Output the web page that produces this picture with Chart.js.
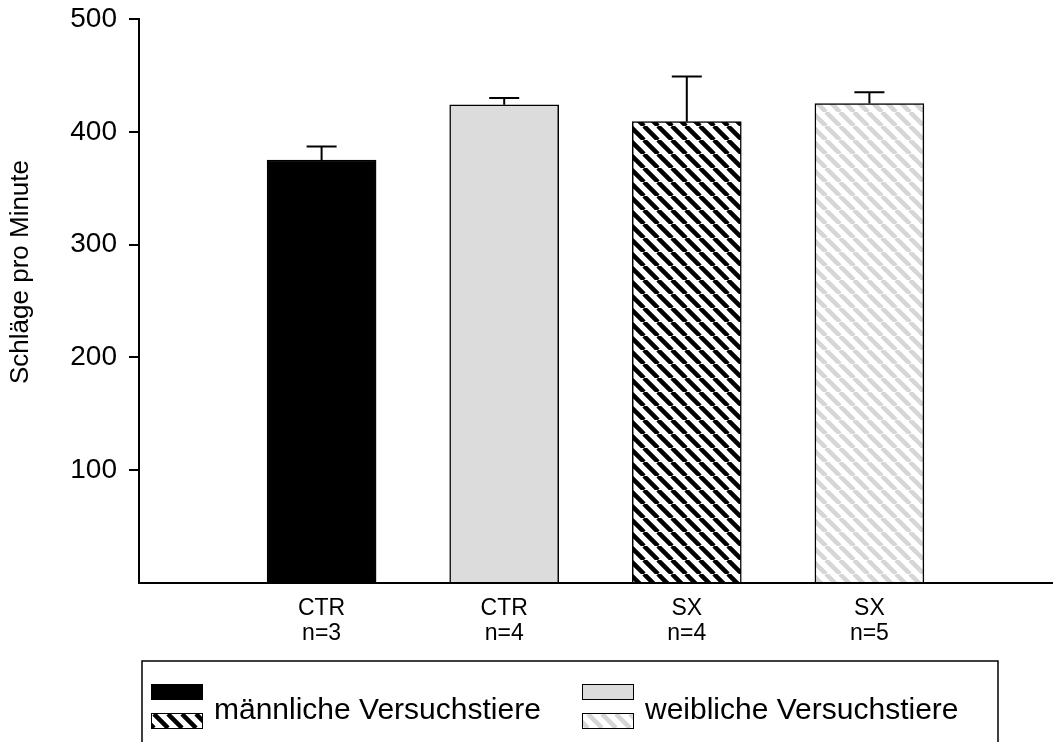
<!DOCTYPE html>
<html>
<head>
<meta charset="utf-8">
<script src="https://cdn.jsdelivr.net/npm/chart.js@4/dist/chart.umd.min.js"></script>
<style>
  body { margin: 0; background: #fff; }
  canvas { display: block; }
</style>
</head>
<body>
<canvas id="heart-chart" width="1053" height="742"></canvas>
<script>
var categories = [['CTR', 'n=3'], ['CTR', 'n=4'], ['SX', 'n=4'], ['SX', 'n=5']];
var positions = [1, 2, 3, 4];
var means = [375, 424, 409, 425];
var errors = [12, 6, 40, 10];
var yTicks = [100, 200, 300, 400, 500];
var legendLabels = ['männliche Versuchstiere', 'weibliche Versuchstiere'];
var yTitle = 'Schläge pro Minute';

var fontFamily = '"Liberation Sans", Arial, sans-serif';
var gray = '#dcdcdc';

function makeHatch(stripe, width) {
  var size = 14;
  var c = document.createElement('canvas');
  c.width = size;
  c.height = size;
  var g = c.getContext('2d');
  g.fillStyle = '#fff';
  g.fillRect(0, 0, size, size);
  g.strokeStyle = stripe;
  g.lineWidth = width;
  g.beginPath();
  for (var k = -1; k <= 1; k++) { // "\" lines, repeated so the tile joins up
    g.moveTo(k * size, 0);
    g.lineTo(k * size + size, size);
  }
  g.stroke();
  return g.createPattern(c, 'repeat');
}

var maleHatch = makeHatch('#000', 4.5);
var femaleHatch = makeHatch('#d6d6d6', 4.5);
var fills = ['#000', gray, maleHatch, femaleHatch];

var barData = [];
for (var i = 0; i < positions.length; i++) {
  barData.push({ x: positions[i], y: means[i] });
}

var errorBars = { //upward error bars with caps
  id: 'errorBars',
  afterDatasetsDraw: function(chart) {
    var ctx = chart.ctx;
    var xs = chart.scales.x;
    var ys = chart.scales.y;
    ctx.save();
    ctx.strokeStyle = '#000';
    ctx.lineWidth = 2;
    for (var i = 0; i < means.length; i++) {
      var x = xs.getPixelForValue(positions[i]);
      var yBase = ys.getPixelForValue(means[i]);
      var yTop = ys.getPixelForValue(means[i] + errors[i]);
      ctx.beginPath();
      ctx.moveTo(x, yBase);
      ctx.lineTo(x, yTop);
      ctx.moveTo(x - 15, yTop);
      ctx.lineTo(x + 15, yTop);
      ctx.stroke();
    }
    ctx.restore();
  }
};

var extras = { //axis title and the boxed legend below the chart
  id: 'extras',
  afterDraw: function(chart) {
    var ctx = chart.ctx;
    ctx.save();
    ctx.fillStyle = '#000';

    ctx.translate(21, 272);
    ctx.rotate(-Math.PI / 2);
    ctx.font = '26px ' + fontFamily;
    ctx.textAlign = 'center';
    ctx.textBaseline = 'middle';
    ctx.fillText(yTitle, 0, 0);
    ctx.setTransform(1, 0, 0, 1, 0, 0);

    ctx.strokeStyle = '#000';
    ctx.lineWidth = 1.5;
    ctx.beginPath();
    ctx.moveTo(142, 742);
    ctx.lineTo(142, 661);
    ctx.lineTo(998, 661);
    ctx.lineTo(998, 742);
    ctx.stroke();

    var itemX = [151, 582];
    var swatches = [[fills[0], fills[2]], [fills[1], fills[3]]];
    ctx.font = '30px ' + fontFamily;
    ctx.textAlign = 'left';
    ctx.textBaseline = 'middle';
    ctx.lineWidth = 1;
    for (var j = 0; j < legendLabels.length; j++) {
      ctx.fillStyle = swatches[j][0];
      ctx.fillRect(itemX[j], 684, 52, 16);
      ctx.strokeRect(itemX[j] + 0.5, 684.5, 51, 15);
      ctx.fillStyle = swatches[j][1];
      ctx.fillRect(itemX[j], 713, 52, 16);
      ctx.strokeRect(itemX[j] + 0.5, 713.5, 51, 15);
      ctx.fillStyle = '#000';
      ctx.fillText(legendLabels[j], itemX[j] + 63, 711);
    }
    ctx.restore();
  }
};

var ctx = document.getElementById('heart-chart').getContext('2d');
var heartChart = new Chart(ctx, {
  type: 'bar',
  data: {
    datasets: [{
      data: barData,
      backgroundColor: fills,
      borderColor: '#000',
      borderWidth: 1.5,
      barThickness: 109
    }]
  },
  options: {
    responsive: false,
    animation: false,
    layout: { padding: { top: 19, right: 1, bottom: 0, left: 0 } },
    plugins: {
      legend: { display: false },
      tooltip: { enabled: false }
    },
    scales: {
      x: {
        type: 'linear',
        min: 0,
        max: 5,
        offset: false,
        afterBuildTicks: function(scale) {
          scale.ticks = positions.map(function(v) { return { value: v }; });
        },
        afterFit: function(scale) { scale.height = 159; },
        grid: { display: false, drawTicks: false, offset: false },
        border: { display: true, color: '#000', width: 2 },
        ticks: {
          padding: 14,
          maxRotation: 0,
          autoSkip: false,
          color: '#000',
          font: { family: fontFamily, size: 23, lineHeight: 1.05 },
          callback: function(value, index) { return categories[index]; }
        }
      },
      y: {
        min: 0,
        max: 500,
        afterBuildTicks: function(scale) {
          scale.ticks = [0].concat(yTicks).map(function(v) { return { value: v }; });
        },
        afterFit: function(scale) {
          scale.width = 139;
          scale.paddingTop = 0;
          scale.paddingBottom = 0;
        },
        grid: {
          drawOnChartArea: false,
          drawTicks: true,
          tickLength: 10,
          lineWidth: 2,
          color: function(c) {
            return c.tick && c.tick.value === 0 ? 'rgba(0,0,0,0)' : '#000';
          }
        },
        border: { display: true, color: '#000', width: 2 },
        ticks: {
          padding: 12,
          color: '#000',
          font: { family: fontFamily, size: 28 },
          callback: function(value) { return value === 0 ? '' : value; }
        }
      }
    }
  },
  plugins: [errorBars, extras]
});
</script>
</body>
</html>
